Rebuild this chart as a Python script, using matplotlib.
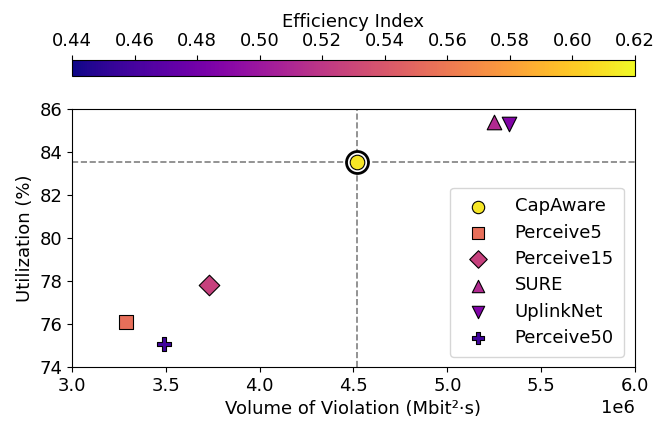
import matplotlib
matplotlib.use("Agg")
import matplotlib.pyplot as plt
import numpy as np

methods = ["CapAware", "Perceive5", "Perceive15", "SURE", "UplinkNet", "Perceive50"]
violation = [4.52e6, 3.29e6, 3.73e6, 5.25e6, 5.33e6, 3.49e6]
utilization = [83.55, 76.1, 77.8, 85.4, 85.3, 75.05]
efficiency = [0.612, 0.554, 0.526, 0.512, 0.487, 0.458]
markers = ["o", "s", "D", "^", "v", "P"]
cb_ticks = [0.44, 0.46, 0.48, 0.50, 0.52, 0.54, 0.56, 0.58, 0.60, 0.62]

FS = 13

fig = plt.figure(figsize=(6.54, 4.26), dpi=100)
ax = fig.add_axes([0.110, 0.1385, 0.861, 0.6055])
cax = fig.add_axes([0.110, 0.822, 0.861, 0.037])

norm = matplotlib.colors.Normalize(vmin=0.44, vmax=0.62)
cmap = plt.get_cmap("plasma")

ax.axvline(violation[0], color="gray", ls="--", lw=1.2, zorder=1)
ax.axhline(utilization[0], color="gray", ls="--", lw=1.2, zorder=1)

ax.scatter([violation[0]], [utilization[0]], s=250, facecolor="white",
           edgecolor="black", linewidth=2, zorder=2)
for m, x, y, e, mk in zip(methods, violation, utilization, efficiency, markers):
    size = 110
    sc = ax.scatter([x], [y], c=[e], cmap=cmap, norm=norm, marker=mk, s=size,
                    edgecolor="black", linewidth=0.8, label=m, zorder=3)

ax.set_xlim(3.0e6, 6.0e6)
ax.set_ylim(74, 86)
ax.set_xticks([3.0e6, 3.5e6, 4.0e6, 4.5e6, 5.0e6, 5.5e6, 6.0e6])
ax.set_yticks([74, 76, 78, 80, 82, 84, 86])
ax.set_xlabel("Volume of Violation (Mbit²·s)", fontsize=FS)
ax.set_ylabel("Utilization (%)", fontsize=FS)
ax.tick_params(labelsize=FS)
ax.xaxis.get_offset_text().set_fontsize(FS)
ax.legend(loc="lower right", bbox_to_anchor=(0.980, 0.039), borderaxespad=0,
          fontsize=FS, labelspacing=0.46, borderpad=0.55, handletextpad=1.0,
          markerscale=0.85)

sm = matplotlib.cm.ScalarMappable(norm=norm, cmap=cmap)
cb = fig.colorbar(sm, cax=cax, orientation="horizontal")
cb.set_ticks(cb_ticks)
cb.set_ticklabels([f"{t:.2f}" for t in cb_ticks])
cax.xaxis.set_ticks_position("top")
cax.xaxis.set_label_position("top")
cb.set_label("Efficiency Index", fontsize=FS)
cax.tick_params(labelsize=FS)

fig.savefig("out.png", dpi=100)
